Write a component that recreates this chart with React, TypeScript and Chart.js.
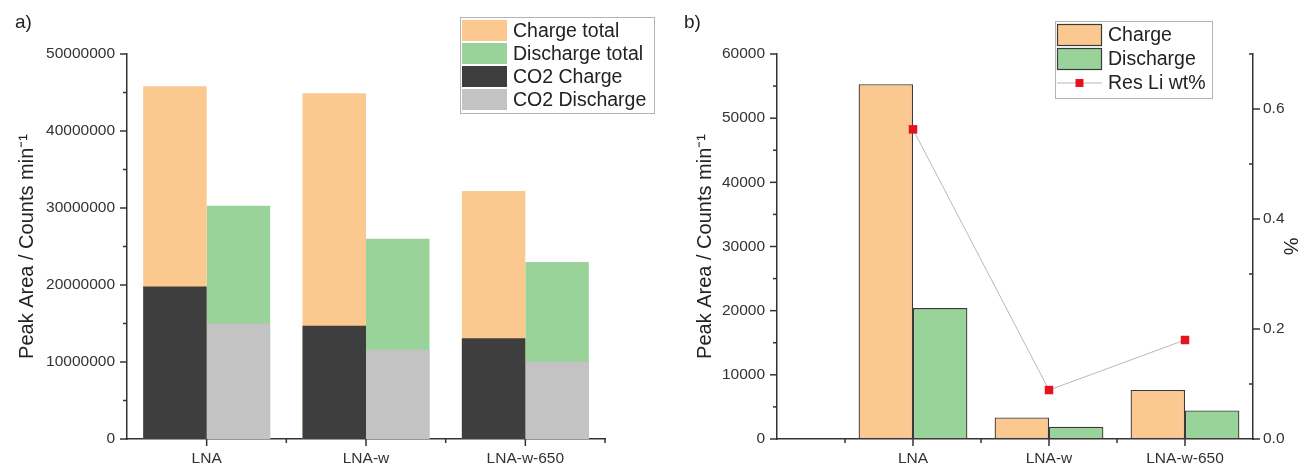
import React, { useEffect, useRef } from "react";
import { Chart, registerables } from "chart.js";

Chart.register(...registerables);

// ---------- data ----------
const categories = ["LNA", "LNA-w", "LNA-w-650"];

// panel a (Peak Area / Counts min^-1)
const chargeTotal = [45800000, 44900000, 32200000];
const dischargeTotal = [30300000, 26000000, 23000000];
const co2Charge = [19800000, 14700000, 13100000];
const co2Discharge = [15000000, 11600000, 10000000];

// panel b
const chargeB = [55300, 3350, 7650];
const dischargeB = [20400, 1900, 4430];
const resLiWt = [0.563, 0.089, 0.18];

const yTicksA = [0, 10000000, 20000000, 30000000, 40000000, 50000000];
const yMinorA = [5000000, 15000000, 25000000, 35000000, 45000000];
const yTicksB = [0, 10000, 20000, 30000, 40000, 50000, 60000];
const yMinorB = [5000, 15000, 25000, 35000, 45000, 55000];
const y1TicksB = [0, 0.2, 0.4, 0.6];
const y1MinorB = [0.1, 0.3, 0.5, 0.7];

// ---------- styles ----------
const FONT = "'Liberation Sans', Arial, Helvetica, sans-serif";
const ORANGE = "#FBC98F";
const GREEN = "#99D39A";
const DARK = "#3E3E3E";
const GREY = "#C3C3C3";
const EDGE = "#3A3A3A";
const RED = "#E3141C";
const AXIS = "#333333";
const TXT = "#333333";
const TITLE = "Peak Area / Counts min\u207B\u00B9";

const decorPlugin = {
  id: "decor",
  afterDraw(chart: any, _args: any, opts: any) {
    const ctx = chart.ctx;
    ctx.save();
    // tick marks
    ctx.strokeStyle = AXIS;
    ctx.lineWidth = 1.5;
    for (const spec of opts.ticks || []) {
      const sc = chart.scales[spec.scale];
      if (!sc) continue;
      for (const v of spec.values) {
        const p = sc.getPixelForValue(v);
        ctx.beginPath();
        if (sc.isHorizontal()) {
          const y0 = sc.top;
          ctx.moveTo(p, y0);
          ctx.lineTo(p, y0 + spec.len * spec.dir);
        } else {
          const x0 = sc.position === "right" ? sc.left : sc.right;
          ctx.moveTo(x0, p);
          ctx.lineTo(x0 + spec.len * spec.dir, p);
        }
        ctx.stroke();
      }
    }
    // panel label
    if (opts.panel) {
      ctx.fillStyle = "#222";
      ctx.font = `19px ${FONT}`;
      ctx.textAlign = "left";
      ctx.textBaseline = "middle";
      ctx.fillText(opts.panel.text, opts.panel.x, opts.panel.y);
    }
    // legend
    const lg = opts.legend;
    if (lg) {
      const items = lg.order.map((i: number) => chart.data.datasets[i]);
      ctx.fillStyle = "#fff";
      ctx.fillRect(lg.x, lg.y, lg.w, lg.h);
      ctx.strokeStyle = "#B4B4B4";
      ctx.lineWidth = 1;
      ctx.strokeRect(lg.x + 0.5, lg.y + 0.5, lg.w, lg.h);
      items.forEach((ds: any, k: number) => {
        const top = lg.y + lg.pad + k * lg.rowH;
        const sx = lg.x + lg.pad;
        if (ds.type === "line") {
          const cy = top + lg.rowH / 2;
          ctx.strokeStyle = ds.borderColor;
          ctx.lineWidth = 1;
          ctx.beginPath();
          ctx.moveTo(sx, cy);
          ctx.lineTo(sx + lg.swW, cy);
          ctx.stroke();
          ctx.fillStyle = ds.pointBackgroundColor;
          ctx.fillRect(sx + lg.swW / 2 - 4, cy - 4, 8, 8);
        } else {
          ctx.fillStyle = ds.backgroundColor;
          ctx.fillRect(sx, top + 1, lg.swW, lg.rowH - 2);
          if (ds.borderWidth) {
            ctx.strokeStyle = ds.borderColor;
            ctx.lineWidth = 1.2;
            ctx.strokeRect(sx + 0.5, top + 1.5, lg.swW - 1, lg.rowH - 3);
          }
        }
        ctx.fillStyle = "#222";
        ctx.font = `${lg.fontSize}px ${FONT}`;
        ctx.textAlign = "left";
        ctx.textBaseline = "middle";
        ctx.fillText(ds.label, sx + lg.swW + lg.gap, top + lg.rowH / 2 + 1);
      });
    }
    ctx.restore();
  },
};

const tickFont = { family: FONT, size: 15.5 };
const titleFont = { family: FONT, size: 20 };

function makeConfigA(): any {
  return {
    type: "bar",
    data: {
      labels: categories,
      datasets: [
        { label: "Charge total", data: chargeTotal, backgroundColor: ORANGE, stack: "charge", order: 2 },
        { label: "Discharge total", data: dischargeTotal, backgroundColor: GREEN, stack: "discharge", order: 2 },
        { label: "CO2 Charge", data: co2Charge, backgroundColor: DARK, stack: "charge", order: 1 },
        { label: "CO2 Discharge", data: co2Discharge, backgroundColor: GREY, stack: "discharge", order: 1 },
      ],
    },
    options: {
      responsive: false,
      animation: false,
      datasets: { bar: { categoryPercentage: 0.797, barPercentage: 1 } },
      layout: { padding: { top: 54, right: 55, left: 0, bottom: 0 } },
      plugins: {
        legend: { display: false },
        tooltip: { enabled: false },
        decor: {
          panel: { text: "a)", x: 15, y: 23 },
          legend: { order: [0, 1, 2, 3], x: 460, y: 17, w: 194, h: 96, pad: 2, rowH: 23, swW: 45, gap: 6, fontSize: 19.5 },
          ticks: [
            { scale: "y", values: yTicksA, len: 7, dir: -1 },
            { scale: "y", values: yMinorA, len: 4, dir: -1 },
            { scale: "x", values: [0, 1, 2], len: 7, dir: 1 },
            { scale: "x", values: [0.5, 1.5, 2.5], len: 4, dir: 1 },
          ],
        },
      },
      scales: {
        x: {
          stacked: true,
          grid: { display: false, drawTicks: false },
          border: { display: true, color: AXIS, width: 1.5 },
          ticks: { font: tickFont, color: TXT, padding: 10, maxRotation: 0, autoSkip: false },
          afterFit: (s: any) => { s.height = 28; },
        },
        y: {
          stacked: false,
          min: 0,
          max: 50000000,
          grid: { display: false, drawTicks: false },
          border: { display: true, color: AXIS, width: 1.5 },
          ticks: { stepSize: 10000000, font: tickFont, color: TXT, padding: 12, callback: (v: any) => String(v) },
          afterBuildTicks: (s: any) => { s.ticks = yTicksA.map((v) => ({ value: v })); },
          title: { display: true, text: TITLE, font: titleFont, color: "#222", padding: { top: 15, bottom: 0 } },
          afterFit: (s: any) => { s.width = 127; },
        },
      },
    },
    plugins: [decorPlugin],
  };
}

function makeConfigB(): any {
  const pos = categories.map((_, i) => i + 1);
  return {
    type: "bar",
    data: {
      datasets: [
        {
          label: "Charge",
          data: chargeB.map((v, i) => ({ x: pos[i], y: v })),
          backgroundColor: ORANGE,
          borderColor: EDGE,
          borderWidth: 1.3,
          borderSkipped: false,
          order: 1,
        },
        {
          label: "Discharge",
          data: dischargeB.map((v, i) => ({ x: pos[i], y: v })),
          backgroundColor: GREEN,
          borderColor: EDGE,
          borderWidth: 1.3,
          borderSkipped: false,
          order: 1,
        },
        {
          type: "line",
          label: "Res Li wt%",
          data: resLiWt.map((v, i) => ({ x: pos[i], y: v })),
          yAxisID: "y1",
          borderColor: "#B8B8B8",
          borderWidth: 1,
          pointStyle: "rect",
          pointRadius: 6,
          pointBackgroundColor: RED,
          pointBorderColor: RED,
          pointBorderWidth: 0,
          order: 0,
          clip: false,
        },
      ],
    },
    options: {
      responsive: false,
      animation: false,
      datasets: { bar: { categoryPercentage: 0.8, barPercentage: 1 } },
      layout: { padding: { top: 54, right: 0, left: 0, bottom: 0 } },
      plugins: {
        legend: { display: false },
        tooltip: { enabled: false },
        decor: {
          panel: { text: "b)", x: 24, y: 23 },
          legend: { order: [0, 1, 2], x: 395, y: 21, w: 157, h: 77, pad: 2, rowH: 24, swW: 45, gap: 6, fontSize: 19.5 },
          ticks: [
            { scale: "y", values: yTicksB, len: 7, dir: -1 },
            { scale: "y", values: yMinorB, len: 4, dir: -1 },
            { scale: "y1", values: y1TicksB, len: 7, dir: 1 },
            { scale: "y1", values: y1MinorB, len: 4, dir: -1 },
            { scale: "x", values: pos, len: 7, dir: 1 },
            { scale: "x", values: pos.map((p) => p - 0.5), len: 4, dir: 1 },
          ],
        },
      },
      scales: {
        x: {
          type: "linear",
          min: 0,
          max: 3.5,
          offset: false,
          grid: { display: false, drawTicks: false, offset: false },
          border: { display: true, color: AXIS, width: 1.5 },
          ticks: {
            font: tickFont,
            color: TXT,
            padding: 10,
            maxRotation: 0,
            autoSkip: false,
            callback: (v: any) => categories[Math.round(v) - 1] ?? "",
          },
          afterBuildTicks: (s: any) => { s.ticks = pos.map((p) => ({ value: p })); },
          afterFit: (s: any) => { s.height = 28; },
        },
        y: {
          min: 0,
          max: 60000,
          grid: { display: false, drawTicks: false },
          border: { display: true, color: AXIS, width: 1.5 },
          ticks: { font: tickFont, color: TXT, padding: 12, callback: (v: any) => String(v) },
          afterBuildTicks: (s: any) => { s.ticks = yTicksB.map((v) => ({ value: v })); },
          title: { display: true, text: TITLE, font: titleFont, color: "#222", padding: { top: 33, bottom: 0 } },
          afterFit: (s: any) => { s.width = 117; },
        },
        y1: {
          position: "right",
          min: 0,
          max: 0.7,
          grid: { display: false, drawTicks: false },
          border: { display: true, color: AXIS, width: 1.5 },
          ticks: { font: tickFont, color: TXT, padding: 10, callback: (v: any) => Number(v).toFixed(1) },
          afterBuildTicks: (s: any) => { s.ticks = y1TicksB.map((v) => ({ value: v })); },
          title: { display: true, text: "%", font: titleFont, color: "#222", padding: { top: 7, bottom: 0 } },
          afterFit: (s: any) => { s.width = 56; },
        },
      },
    },
    plugins: [decorPlugin],
  };
}

function ChartCanvas({ make, width, height, left }: { make: () => any; width: number; height: number; left: number }) {
  const ref = useRef<HTMLCanvasElement | null>(null);
  useEffect(() => {
    if (!ref.current) return;
    const chart = new Chart(ref.current, make());
    return () => chart.destroy();
  }, [make]);
  return (
    <canvas
      ref={ref}
      width={width}
      height={height}
      style={{ position: "absolute", left, top: 0, width, height }}
    />
  );
}

export default function App() {
  return (
    <div style={{ position: "absolute", left: 0, top: 0, width: 1309, height: 467, background: "#fff", overflow: "hidden" }}>
      <ChartCanvas make={makeConfigA} width={660} height={467} left={0} />
      <ChartCanvas make={makeConfigB} width={649} height={467} left={660} />
    </div>
  );
}
